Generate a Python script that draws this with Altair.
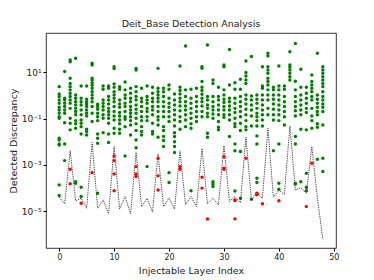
import altair as alt
import pandas as pd

# layer index for every column
layers = list(range(49))

# log10 of the dotted reference line, one value per layer
line_log10 = [-4.40, -4.69, -2.39, -4.56, -4.45, -4.88, -2.03, -4.88, -4.52, -5.12,
              -2.21, -4.91, -4.37, -5.12, -2.47, -4.81, -4.46, -5.05, -2.53, -4.81,
              -4.43, -4.92, -2.39, -4.73, -4.37, -4.81, -2.29, -4.69, -4.45, -4.73,
              -2.18, -4.59, -4.37, -4.63, -1.81, -4.52, -4.23, -4.45, -1.42, -4.40,
              -4.09, -4.30, -1.32, -4.09, -4.01, -4.23, -2.21, -4.40, -6.22]

# log10 of green (detected) points, per layer
green_log10 = [
    [0.38, 0.06, -0.05, -0.20, -0.34, -0.51, -0.63, -0.77, -0.92, -0.99, -1.85, -1.93, -2.10, -2.14, -3.87, -4.33],
    [1.03, -0.12, -0.20, -0.34, -0.48, -0.63, -0.77, -1.18, -2.10, -2.82],
    [1.53, 1.46, 0.74, 0.52, 0.38, 0.24, 0.09, -0.05, -0.20, -0.34, -0.56, -0.99, -1.20, -1.49],
    [1.61, 0.02, -0.12, -0.27, -0.41, -0.56, -0.70, -0.84, -1.09, -1.23, -1.42, -3.73, -3.80],
    [0.41, -0.12, -0.27, -0.41, -0.63, -0.84, -1.06, -1.20, -1.35, -1.67, -3.97, -4.37],
    [0.41, -0.17, -0.27, -0.37, -0.48, -0.63, -0.77, -0.89, -1.46, -1.56, -1.71],
    [1.39, 1.32, 0.74, 0.67, 0.55, 0.44, 0.31, 0.16, 0.02, -0.12, -0.27, -0.48, -0.77, -1.13],
    [-0.38, -0.48, -0.60, -0.77, -0.92, -1.09, -1.67, -1.85, -2.07, -4.23],
    [0.41, 0.27, -0.20, -0.34, -0.48, -0.63, -0.84, -0.99, -1.61],
    [0.41, 0.31, -0.05, -0.20, -0.37, -0.56, -0.70, -0.84, -0.99, -1.20, -1.67, -2.04],
    [1.24, 1.16, 0.50, 0.35, 0.16, 0.02, -0.12, -0.27, -0.48, -0.70, -0.89, -1.06, -1.42, -1.64],
    [0.38, 0.27, -0.20, -0.37, -0.51, -0.74, -0.89, -1.06, -1.23, -1.46, -1.64],
    [0.58, 0.24, 0.02, -0.12, -0.34, -0.48, -0.70, -0.92, -1.03, -1.35, -2.62],
    [0.31, 0.09, -0.12, -0.27, -0.48, -0.63, -0.77, -0.92, -1.09, -1.28, -1.71],
    [1.17, 1.10, 0.38, 0.16, -0.05, -0.20, -0.41, -0.60, -0.77, -0.99, -1.23, -1.52, -1.93, -2.26],
    [0.31, -0.12, -0.27, -0.48, -0.70, -0.92, -1.09, -1.35, -1.56, -1.71],
    [0.41, -0.05, -0.20, -0.34, -0.56, -0.70, -0.92, -1.09, -3.08],
    [0.35, 0.09, -0.12, -0.27, -0.48, -0.63, -0.84, -1.20, -1.56, -1.67],
    [1.17, 0.31, 0.16, 0.02, -0.12, -0.27, -0.48, -0.70, -0.92, -1.06, -1.28, -1.81],
    [0.31, 0.16, -0.05, -0.27, -0.48, -0.70, -0.92, -1.35, -1.52, -1.78, -1.95, -2.21],
    [0.45, 0.27, -0.12, -0.34, -0.51, -0.70, -0.92, -1.13, -3.34, -3.77],
    [0.06, -0.20, -0.41, -0.63, -0.84, -1.06, -1.32, -1.61, -1.78, -2.00, -2.21, -2.47],
    [1.27, 0.35, 0.21, 0.06, -0.12, -0.27, -0.46, -0.66, -0.92, -1.13, -1.46],
    [2.14, 0.24, -0.05, -0.27, -0.46, -0.63, -0.84, -1.06, -1.35],
    [0.27, -0.12, -0.34, -0.56, -0.77, -0.99, -1.23, -1.42, -4.12],
    [0.31, -0.05, -0.27, -0.48, -0.70, -0.92, -1.13],
    [1.24, 1.17, 0.60, 0.35, 0.21, 0.05, -0.12, -0.27, -0.46, -0.70, -0.92],
    [2.18, -0.05, -0.20, -0.41, -0.56, -0.77, -0.92, -1.64, -1.81],
    [0.67, 0.52, -0.05, -0.27, -0.48, -0.63, -0.80, -0.99, -3.73, -3.83, -3.94],
    [0.35, -0.05, -0.20, -0.41, -0.63, -0.84, -1.13, -1.38, -1.49],
    [1.32, 1.24, 0.24, 0.02, -0.17, -0.31, -0.48, -0.63, -0.84, -0.95],
    [1.99, 0.45, -0.12, -0.27, -0.46, -0.63, -0.84, -1.06, -1.78],
    [0.55, 0.27, -0.12, -0.34, -0.56, -0.74, -0.99, -1.23, -1.35, -2.10, -2.39, -4.13],
    [0.70, 0.27, -0.05, -0.27, -0.48, -0.70, -0.92, -1.20, -1.52, -2.43, -4.45],
    [1.49, 0.99, 0.84, 0.67, 0.52, 0.02, -0.17, -0.37, -0.60, -0.84, -1.09, -1.35, -1.49],
    [1.68, -0.02, -0.20, -0.41, -0.63, -0.89, -1.32, -4.49],
    [0.02, -0.17, -0.34, -0.56, -0.77, -0.92, -1.09, -1.32, -1.75, -2.10, -3.58, -3.77, -4.26],
    [1.24, 0.41, 0.31, 0.02, -0.20, -0.41, -0.63, -0.84, -1.06, -1.32],
    [1.82, 1.71, 1.24, 1.10, 0.96, 0.74, 0.60, 0.45, 0.24, 0.02, -0.20, -0.56, -0.84],
    [0.35, 0.24, 0.02, -0.17, -0.37, -0.60, -0.84, -1.06, -2.39],
    [1.27, 0.41, 0.24, 0.02, -0.20, -0.41, -0.63, -0.84, -1.09, -2.10, -3.80, -4.06],
    [0.41, 0.27, -0.05, -0.27, -0.48, -0.70, -0.92, -1.28],
    [1.89, 1.32, 1.22, 1.10, 0.96, 0.81, 0.67],
    [2.25, 0.61, 0.24, -0.05, -0.27, -0.48, -0.66, -0.89, -1.78, -2.10, -3.80, -3.83],
    [1.13, 0.35, 0.02, -0.20, -0.41, -0.63, -0.84, -1.46, -3.73],
    [0.35, 0.09, -0.12, -0.34, -0.56, -0.74, -1.49, -3.37, -3.97, -4.12],
    [0.88, 0.60, 0.45, 0.31, 0.16, -0.05, -0.20, -0.56, -0.89, -1.09, -1.42],
    [1.82, 0.02, -0.17, -0.34, -0.51, -0.70, -0.84, -1.23, -1.38, -2.76],
    [1.24, 1.10, 0.96, 0.81, 0.67, 0.52, 0.38, 0.16, -0.05, -0.20, -0.37, -0.51, -0.70, -1.28, -2.72, -3.29],
]

# log10 of red (undetected) points: (layer, value)
red_layers = [2, 2, 4, 6, 10, 10, 10, 10, 14, 14, 14, 18, 18, 18, 22, 22, 26, 26, 27,
              30, 30, 30, 32, 32, 32, 34, 36, 36, 37, 40, 45, 46]
red_log10 = [-3.19, -3.82, -4.66, -3.34, -2.62, -2.82, -3.40, -4.12, -3.08, -3.40, -3.51,
             -2.72, -3.48, -4.09, -3.08, -3.19, -3.54, -4.01, -5.35, -2.65, -3.15, -3.19,
             -4.52, -4.55, -5.34, -2.72, -4.23, -4.30, -4.69, -4.56, -4.81, -2.93]

line_df = pd.DataFrame({"layer": layers, "value": [10 ** v for v in line_log10]})
green_df = pd.DataFrame(
    [{"layer": i, "value": 10 ** v} for i, vals in enumerate(green_log10) for v in vals]
)
red_df = pd.DataFrame({"layer": red_layers, "value": [10 ** v for v in red_log10]})

FONT = "DejaVu Sans"

xscale = alt.Scale(domain=[-2.4, 50.4], nice=False, zero=False)
yscale = alt.Scale(type="log", domain=[10 ** -6.6, 10 ** 2.7], nice=False)

label_expr = (
    "datum.value > 5 ? '10¹' : datum.value > 0.05 ? '10⁻¹' : "
    "datum.value > 0.0005 ? '10⁻³' : '10⁻⁵'"
)

xaxis = alt.Axis(title="Injectable Layer Index", values=[0, 10, 20, 30, 40, 50],
                 format="d", grid=False, domain=False, tickColor="black",
                 tickSize=3, labelFontSize=8, labelColor="#222", titleFontSize=9.5,
                 titleFontWeight="normal", titleColor="#222", labelFont=FONT,
                 titleFont=FONT, titlePadding=4, labelPadding=2)
yaxis = alt.Axis(title="Detected Discrepancy", values=[10, 0.1, 0.001, 0.00001],
                 labelExpr=label_expr, grid=False, domain=False, tickColor="black",
                 tickSize=3, labelFontSize=9, labelColor="#222", titleFontSize=9.5,
                 titleFontWeight="normal", titleColor="#222", labelFont=FONT,
                 titleFont=FONT, titlePadding=3, labelPadding=2)

line = alt.Chart(line_df).mark_line(
    color="#333333", strokeWidth=0.9, strokeDash=[1.3, 1]
).encode(
    x=alt.X("layer:Q", scale=xscale, axis=xaxis),
    y=alt.Y("value:Q", scale=yscale, axis=yaxis),
)

green = alt.Chart(green_df).mark_circle(color="#008000", size=12, opacity=1).encode(
    x=alt.X("layer:Q", scale=xscale),
    y=alt.Y("value:Q", scale=yscale),
)

red = alt.Chart(red_df).mark_circle(color="#ff0000", size=12, opacity=1).encode(
    x=alt.X("layer:Q", scale=xscale),
    y=alt.Y("value:Q", scale=yscale),
)

chart = alt.layer(green, line, red).properties(
    width=290,
    height=215,
    title=alt.TitleParams("Deit_Base Detection Analysis", font=FONT, fontSize=9.5,
                          fontWeight="normal", color="#222", offset=5),
    autosize=alt.AutoSizeParams(type="none"),
    padding={"left": 38, "top": 25, "right": 28, "bottom": 30},
).configure_view(stroke="black", strokeWidth=0.8)

chart.save("out.html", embed_options={"renderer": "svg", "actions": False})
